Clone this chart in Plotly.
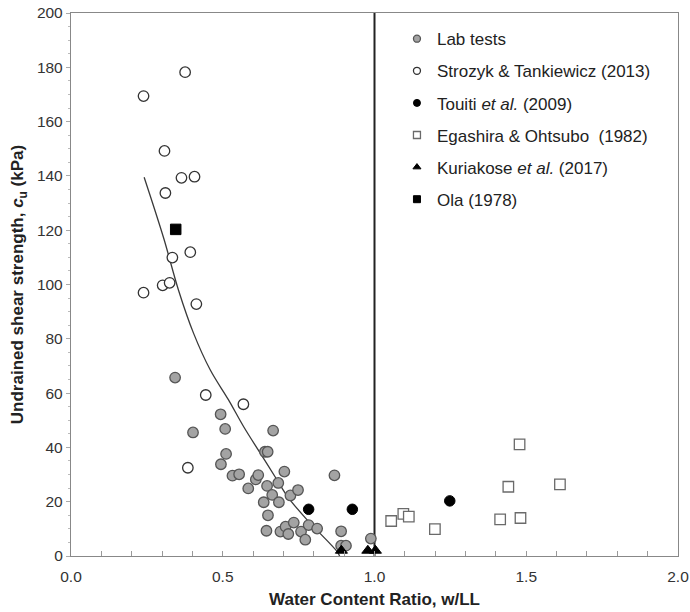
import plotly.graph_objects as go

# Lab tests (gray circles)
lab_x = [0.343, 0.402, 0.493, 0.508, 0.511, 0.494, 0.532, 0.554, 0.584, 0.609, 0.617, 0.639, 0.648,
         0.666, 0.646, 0.663, 0.635, 0.649, 0.644, 0.685, 0.683, 0.703, 0.723, 0.748, 0.690, 0.707,
         0.716, 0.734, 0.758, 0.772, 0.783, 0.811, 0.868, 0.890, 0.890, 0.906, 0.988]
lab_y = [65.7, 45.5, 52.2, 46.8, 37.6, 33.8, 29.6, 30.1, 24.9, 28.2, 29.8, 38.4, 38.4,
         46.2, 25.8, 22.5, 19.8, 15.0, 9.3, 19.8, 26.9, 31.1, 22.3, 24.3, 9.0, 10.8,
         8.1, 12.3, 9.0, 6.0, 11.4, 10.1, 29.7, 9.1, 3.8, 3.8, 6.4]

# Strozyk & Tankiewicz (2013)
st_x = [0.376, 0.239, 0.308, 0.364, 0.407, 0.311, 0.393, 0.334, 0.302, 0.325, 0.239, 0.413,
        0.385, 0.444, 0.568]
st_y = [178.2, 169.4, 149.2, 139.3, 139.7, 133.7, 111.9, 109.9, 99.7, 100.6, 97.0, 92.8,
        32.5, 59.3, 55.9]

# Touiti et al. (2009)
to_x = [0.783, 0.927, 1.248]
to_y = [17.2, 17.2, 20.3]

# Egashira & Ohtsubo (1982)
eg_x = [1.055, 1.095, 1.113, 1.199, 1.414, 1.481, 1.441, 1.478, 1.611]
eg_y = [12.9, 15.5, 14.5, 9.9, 13.5, 14.0, 25.5, 41.1, 26.4]

# Kuriakose et al. (2017)
ku_x = [0.891, 0.978, 1.003]
ku_y = [2.0, 2.0, 2.0]

# Ola (1978)
ola_x = [0.345]
ola_y = [120.3]

# Trend curve
cur_x = [0.241, 0.305, 0.354, 0.404, 0.459, 0.519, 0.569, 0.624, 0.679, 0.714, 0.778, 0.877, 0.885]
cur_y = [139.5, 117.2, 98.0, 82.0, 68.5, 57.5, 47.6, 37.8, 28.0, 21.8, 13.3, 1.6, 0.0]

# Vertical reference line at w/LL = 1
vline_x = [1.0, 1.0]
vline_y = [0, 200]

x_ticks = [0.0, 0.5, 1.0, 1.5, 2.0]
y_ticks = [0, 20, 40, 60, 80, 100, 120, 140, 160, 180, 200]

FONT = "Liberation Sans, Arial, sans-serif"

fig = go.Figure()

fig.add_trace(go.Scatter(x=cur_x, y=cur_y, mode="lines", line=dict(color="#3a3a3a", width=1.3, shape="spline"),
                         showlegend=False, hoverinfo="skip"))
fig.add_trace(go.Scatter(x=vline_x, y=vline_y, mode="lines", line=dict(color="#222222", width=2),
                         showlegend=False, hoverinfo="skip"))

series = [
    ("Lab tests", lab_x, lab_y, dict(symbol="circle", color="#a3a3a3", line=dict(color="#555555", width=1.3))),
    ("Strozyk & Tankiewicz (2013)", st_x, st_y, dict(symbol="circle", color="white", line=dict(color="#333333", width=1.3))),
    ("Touiti <i>et al.</i> (2009)", to_x, to_y, dict(symbol="circle", color="black", line=dict(color="black", width=1))),
    ("Egashira & Ohtsubo  (1982)", eg_x, eg_y, dict(symbol="square", color="white", line=dict(color="#6a6a6a", width=1.3))),
    ("Kuriakose <i>et al.</i> (2017)", ku_x, ku_y, dict(symbol="triangle-up", color="black", line=dict(color="black", width=1))),
    ("Ola (1978)", ola_x, ola_y, dict(symbol="square", color="black", line=dict(color="black", width=1))),
]

for i, (name, xs, ys, mk) in enumerate(series):
    fig.add_trace(go.Scatter(x=xs, y=ys, mode="markers", name=name, showlegend=False,
                             marker=dict(size=10.5, **mk), cliponaxis=False))
for i, (name, xs, ys, mk) in enumerate(series):
    fig.add_trace(go.Scatter(x=[None], y=[None], mode="markers", name=name, legendgroup=f"g{i}",
                             marker=dict(size=7, **mk)))

fig.update_layout(
    width=690, height=612,
    margin=dict(l=71, r=12, t=13, b=56),
    paper_bgcolor="white", plot_bgcolor="white",
    font=dict(family=FONT, size=15, color="#333333"),
    legend=dict(x=0.537, y=0.985, xanchor="left", yanchor="top", bgcolor="rgba(0,0,0,0)",
                font=dict(family=FONT, size=17, color="#222222"), tracegroupgap=7,
                traceorder="grouped", itemsizing="trace"),
    xaxis=dict(range=[0, 2], tickvals=x_ticks, ticktext=[f"{v:.1f}" for v in x_ticks],
               automargin=False, ticklabelstandoff=6,
               ticks="inside", ticklen=5, tickcolor="#999999", showgrid=False, zeroline=False,
               showline=True, linecolor="#888888", linewidth=1.3, mirror=True,
               minor=dict(dtick=0.1, ticks="inside", ticklen=5, tickcolor="#999999"),
               title=dict(text="<b>Water Content Ratio, w/LL</b>", font=dict(family=FONT, size=17, color="#222222"), standoff=9),
               tickfont=dict(family=FONT, size=15.5, color="#333333")),
    yaxis=dict(range=[0, 200], tickvals=y_ticks, ticks="outside", ticklen=4, tickcolor="#aaaaaa",
               automargin=False,
               showgrid=False, zeroline=False, showline=True, linecolor="#888888", linewidth=1.3, mirror=True,
               minor=dict(dtick=5, ticks="outside", ticklen=2, tickcolor="#bbbbbb"),
               title=dict(text="<b>Undrained shear strength, <i>c</i><sub>u</sub> (kPa)</b>",
                          font=dict(family=FONT, size=17, color="#222222"), standoff=8),
               tickfont=dict(family=FONT, size=15.5, color="#333333")),
)

fig.write_html("out.html")
